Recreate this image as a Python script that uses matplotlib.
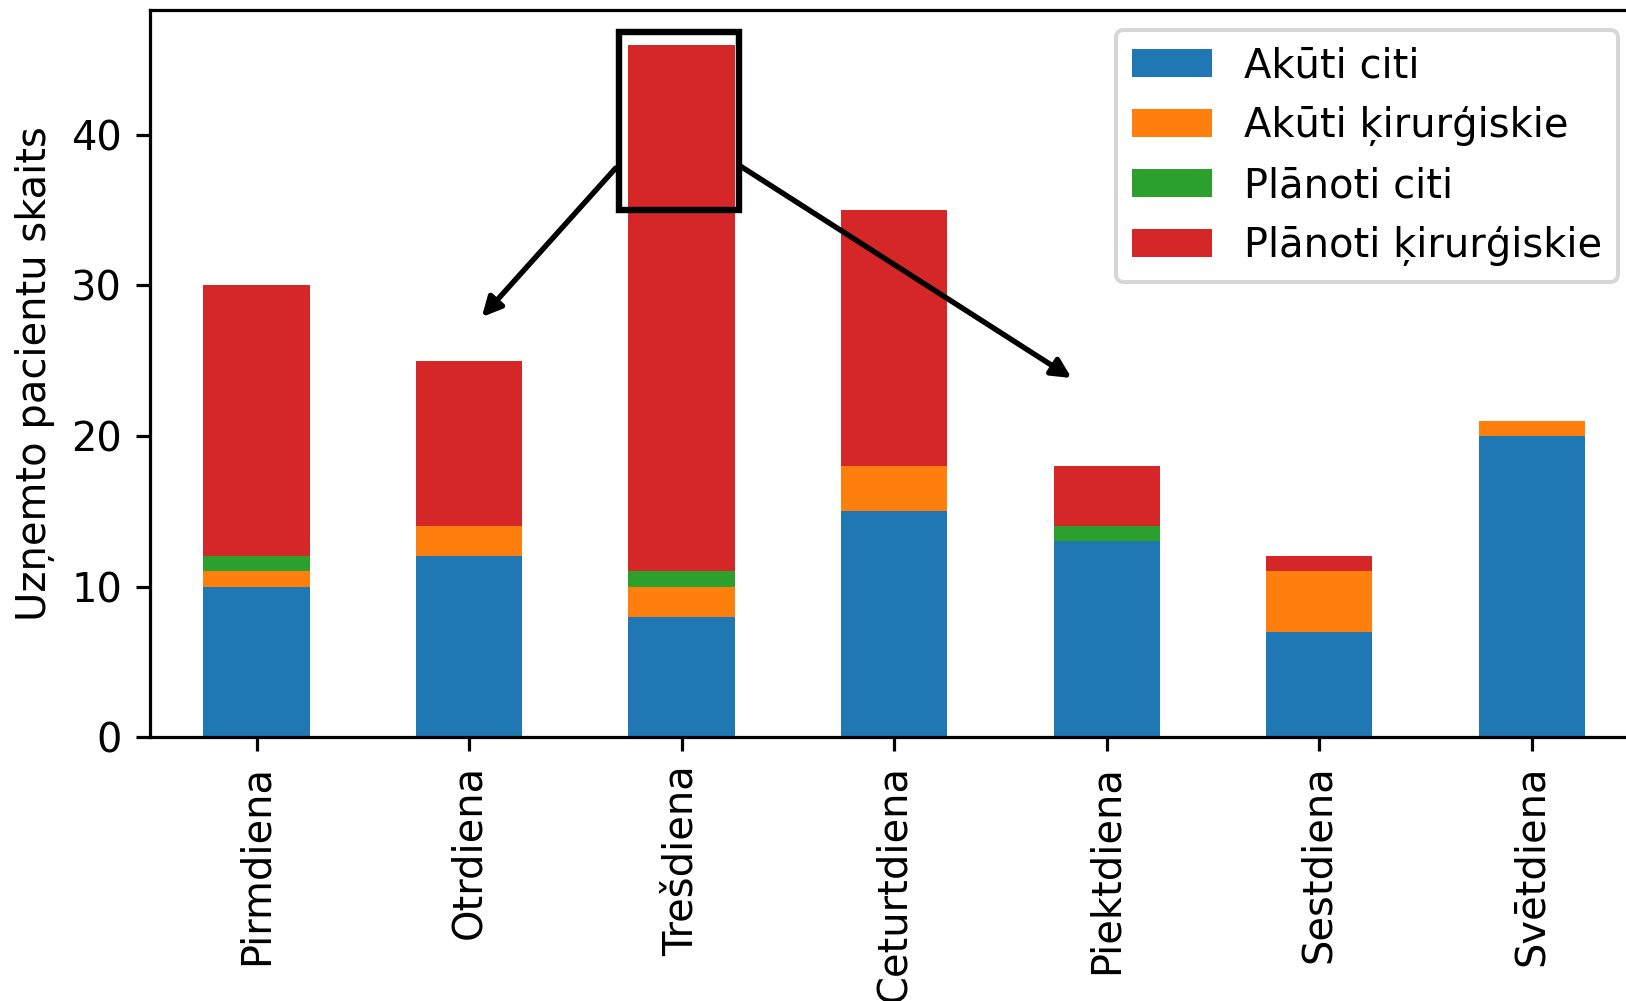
import numpy as np
import matplotlib
matplotlib.use('Agg')
import matplotlib.pyplot as plt
from matplotlib.patches import Rectangle

days = ['Pirmdiena', 'Otrdiena', 'Trešdiena', 'Ceturtdiena',
        'Piektdiena', 'Sestdiena', 'Svētdiena']
akuti_citi = [10, 12, 8, 15, 13, 7, 20]
akuti_kir = [1, 2, 2, 3, 0, 4, 1]
planoti_citi = [1, 0, 1, 0, 1, 0, 0]
planoti_kir = [18, 11, 35, 17, 4, 1, 0]
labels = ['Akūti citi', 'Akūti ķirurģiskie', 'Plānoti citi', 'Plānoti ķirurģiskie']

dpi = 288
fig = plt.figure(figsize=(1626 / dpi, 1001 / dpi), dpi=dpi)
ax = fig.add_axes([0.0924, 0.2637, 0.9150, 0.7263])

x = np.arange(len(days))
bottom = np.zeros(len(days))
for vals, lab in zip([akuti_citi, akuti_kir, planoti_citi, planoti_kir], labels):
    ax.bar(x, vals, width=0.5, bottom=bottom, label=lab)
    bottom = bottom + np.array(vals)

ax.set_xlim(-0.5, 6.5)
ax.set_ylim(0, 48.3)
ax.set_xticks(x)
ax.set_xticklabels(days, rotation=90)
ax.set_ylabel('Uzņemto pacientu skaits')

# highlight box and arrows
ax.add_patch(Rectangle((1.705, 35.0), 0.565, 11.85, fill=False, edgecolor='black', lw=1.6, zorder=5))
ax.annotate('', xy=(1.06, 27.9), xytext=(1.69, 37.8),
            arrowprops=dict(arrowstyle='-|>', color='black', lw=1.35, shrinkA=0, shrinkB=0))
ax.annotate('', xy=(3.835, 23.85), xytext=(2.28, 37.9),
            arrowprops=dict(arrowstyle='-|>', color='black', lw=1.35, shrinkA=0, shrinkB=0))

ax.legend(loc='upper right')

fig.savefig('out.png', dpi=dpi)
